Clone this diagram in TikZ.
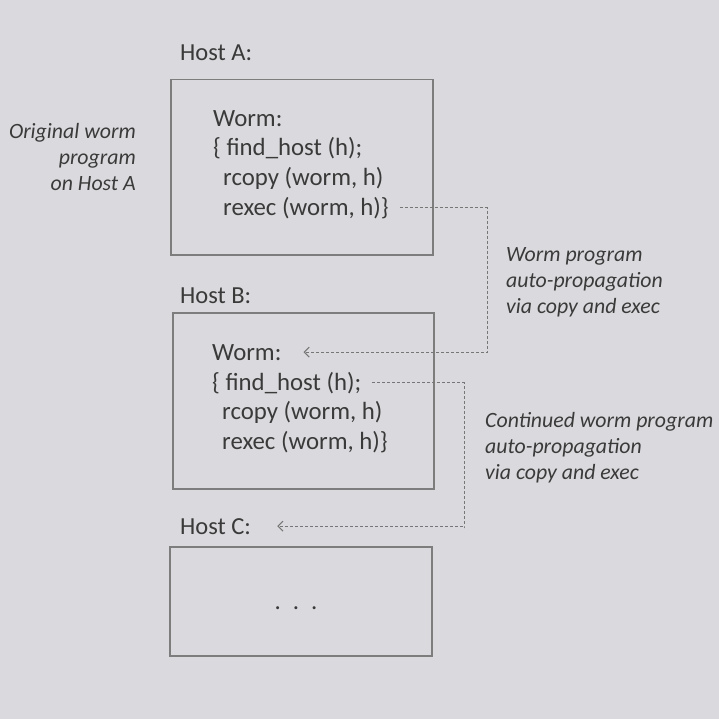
\documentclass[tikz,border=0pt]{standalone}
\usepackage{fontspec}
\setmainfont{Carlito}
\usetikzlibrary{arrows.meta,positioning}
\definecolor{bgGray}{RGB}{218,217,221}
\definecolor{inkGray}{RGB}{58,58,58}
\definecolor{boxGray}{RGB}{125,125,125}
\definecolor{dashGray}{RGB}{118,118,118}

\begin{document}
\begin{tikzpicture}[x=1pt,y=-1pt,
  every node/.style={inner sep=0pt,text=inkGray},
  hostbox/.style={draw=boxGray,line width=1.5pt,anchor=north west},
  hostlbl/.style={anchor=base west,font=\fontsize{24.5}{29}\selectfont},
  codeln/.style={anchor=base west,font=\fontsize{24.8}{29}\selectfont},
  note/.style={font=\fontsize{21.8}{26}\selectfont\itshape},
  link/.style={draw=dashGray,line width=1pt,dash pattern=on 3pt off 2pt,
    -{Straight Barb[length=5pt,width=10pt]}}]
\fill[bgGray] (0,0) rectangle (719,719);

% host A
\node[hostlbl] (hostA) at (180,61) {Host A:};
\node[hostbox,minimum width=262pt,minimum height=175pt] (boxA) at (170,79) {};
\node[codeln] (wormA) at (213,127) {Worm:};
\node[codeln] (findA) at (213,156) {\{ find\_host (h);};
\node[codeln] (copyA) at (223,186) {rcopy (worm, h)};
\node[codeln] (execA) at (223,215) {rexec (worm, h)\}};

% host B
\node[hostlbl] (hostB) at (180,303) {Host B:};
\node[hostbox,minimum width=261pt,minimum height=176pt] (boxB) at (172,312) {};
\node[codeln] (wormB) at (212,360) {Worm:};
\node[codeln] (findB) at (212,390) {\{ find\_host (h);};
\node[codeln] (copyB) at (222,419) {rcopy (worm, h)};
\node[codeln] (execB) at (222,449) {rexec (worm, h)\}};

% host C
\node[hostlbl] (hostC) at (180,534) {Host C:};
\node[hostbox,minimum width=262pt,minimum height=109pt] (boxC) at (169,546) {};
\node[codeln,anchor=base] (dotsC) at (296,609) {.\hspace{12pt}.\hspace{12pt}.};

% notes
\node[note,align=right,anchor=north east] (origNote) at (136,123) {Original worm\\program\\on Host A};
\node[note,align=left,anchor=north west] (propNote) at (506,247) {Worm program\\auto-propagation\\via copy and exec};
\node[note,align=left,anchor=north west] (contNote) at (485,412) {Continued worm program\\auto-propagation\\via copy and exec};

% propagation links
\coordinate (elbowA) at (487,351);
\coordinate (elbowB) at (464,528);
\draw[link] ([xshift=11pt]execA.east) -| (elbowA) |- ([xshift=22pt]wormB.east);
\draw[link] ([xshift=11pt]findB.east) -| (elbowB) |- ([xshift=26pt]hostC.east);
\end{tikzpicture}
\end{document}
